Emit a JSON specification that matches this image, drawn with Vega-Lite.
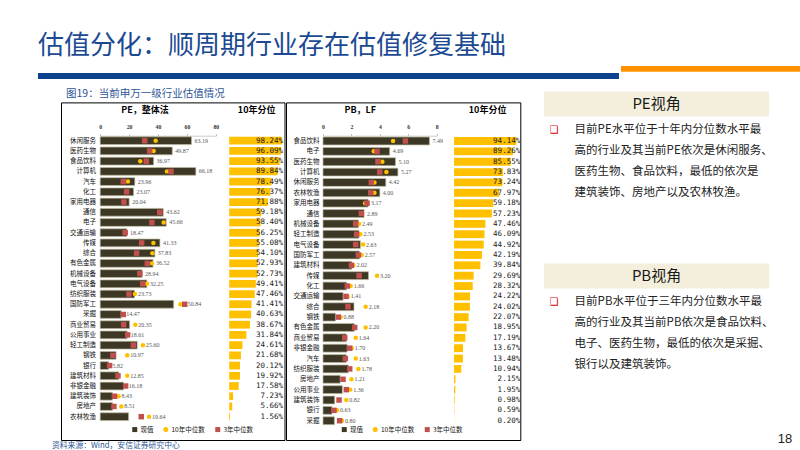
{
  "$schema": "https://vega.github.io/schema/vega-lite/v6.json",
  "background": "#FFFFFF",
  "padding": {"left": 38, "top": 33, "right": 0, "bottom": 0},
  "config": {"view": {"stroke": null}, "axis": {"grid": false}, "font": "Noto Sans CJK SC"},
  "title": {"text": "估值分化：顺周期行业存在估值修复基础", "anchor": "start", "fontSize": 26, "fontWeight": "normal", "font": "Noto Sans CJK SC", "color": "#1C4A92", "offset": 7},
  "datasets": {
    "pe": [
      {"ind": "休闲服务", "v": 63.19, "m10": 38.4, "m3": 30.8, "pct": 0.9824},
      {"ind": "医药生物", "v": 49.87, "m10": 37.0, "m3": 34.2, "pct": 0.9609},
      {"ind": "食品饮料", "v": 36.97, "m10": 27.7, "m3": 31.9, "pct": 0.9355},
      {"ind": "计算机", "v": 66.18, "m10": 46.2, "m3": 49.0, "pct": 0.8984},
      {"ind": "汽车", "v": 23.96, "m10": 19.2, "m3": 16.0, "pct": 0.7849},
      {"ind": "化工", "v": 23.07, "m10": 18.1, "m3": 18.3, "pct": 0.7637},
      {"ind": "家用电器", "v": 20.04, "m10": 16.5, "m3": 16.4, "pct": 0.7188},
      {"ind": "通信", "v": 43.62, "m10": 41.0, "m3": 41.2, "pct": 0.5918},
      {"ind": "电子", "v": 45.66, "m10": 43.9, "m3": 35.8, "pct": 0.5840},
      {"ind": "交通运输", "v": 18.47, "m10": 17.2, "m3": 17.3, "pct": 0.5625},
      {"ind": "传媒", "v": 41.33, "m10": 36.8, "m3": 28.7, "pct": 0.5508},
      {"ind": "综合", "v": 37.83, "m10": 36.1, "m3": 25.2, "pct": 0.5410},
      {"ind": "有色金属", "v": 36.52, "m10": 35.8, "m3": 32.6, "pct": 0.5293},
      {"ind": "机械设备", "v": 28.94, "m10": 27.3, "m3": 27.5, "pct": 0.5273},
      {"ind": "电气设备", "v": 32.25, "m10": 32.4, "m3": 29.4, "pct": 0.4941},
      {"ind": "纺织服装", "v": 23.73, "m10": 24.0, "m3": 19.9, "pct": 0.4746},
      {"ind": "国防军工", "v": 50.84, "m10": 55.5, "m3": 58.5, "pct": 0.4141},
      {"ind": "采掘", "v": 14.47, "m10": 15.9, "m3": 16.0, "pct": 0.4063},
      {"ind": "商业贸易", "v": 20.35, "m10": 24.3, "m3": 16.2, "pct": 0.3867},
      {"ind": "公用事业", "v": 18.61, "m10": 18.9, "m3": 19.0, "pct": 0.3184},
      {"ind": "轻工制造", "v": 25.60, "m10": 29.6, "m3": 22.9, "pct": 0.2461},
      {"ind": "钢铁", "v": 10.97, "m10": 18.7, "m3": 8.8, "pct": 0.2168},
      {"ind": "银行", "v": 5.82, "m10": 6.4, "m3": 6.5, "pct": 0.2012},
      {"ind": "建筑材料", "v": 12.85, "m10": 18.7, "m3": 12.3, "pct": 0.1992},
      {"ind": "非银金融", "v": 16.18, "m10": 17.5, "m3": 17.6, "pct": 0.1758},
      {"ind": "建筑装饰", "v": 8.43, "m10": 12.7, "m3": 9.9, "pct": 0.0723},
      {"ind": "房地产", "v": 8.51, "m10": 14.6, "m3": 9.5, "pct": 0.0566},
      {"ind": "农林牧渔", "v": 19.64, "m10": 33.8, "m3": 28.4, "pct": 0.0156}
    ],
    "pb": [
      {"ind": "食品饮料", "v": 7.49, "m10": 4.93, "m3": 5.80, "pct": 0.9414},
      {"ind": "电子", "v": 4.69, "m10": 3.57, "m3": 3.80, "pct": 0.8926},
      {"ind": "医药生物", "v": 5.10, "m10": 4.18, "m3": 3.87, "pct": 0.8555},
      {"ind": "计算机", "v": 5.27, "m10": 4.46, "m3": 3.99, "pct": 0.7383},
      {"ind": "休闲服务", "v": 4.42, "m10": 3.62, "m3": 3.40, "pct": 0.7324},
      {"ind": "农林牧渔", "v": 4.00, "m10": 3.62, "m3": 3.36, "pct": 0.6797},
      {"ind": "家用电器", "v": 3.17, "m10": 2.96, "m3": 3.10, "pct": 0.5918},
      {"ind": "通信", "v": 2.89, "m10": 2.69, "m3": 2.70, "pct": 0.5723},
      {"ind": "机械设备", "v": 2.49, "m10": 2.54, "m3": 2.30, "pct": 0.4746},
      {"ind": "轻工制造", "v": 2.53, "m10": 2.63, "m3": 2.37, "pct": 0.4609},
      {"ind": "电气设备", "v": 2.63, "m10": 2.82, "m3": 2.30, "pct": 0.4492},
      {"ind": "国防军工", "v": 2.57, "m10": 2.72, "m3": 2.49, "pct": 0.4219},
      {"ind": "建筑材料", "v": 2.02, "m10": 2.14, "m3": 2.00, "pct": 0.3984},
      {"ind": "传媒", "v": 3.20, "m10": 3.80, "m3": 2.54, "pct": 0.2969},
      {"ind": "化工", "v": 1.66, "m10": 1.95, "m3": 1.71, "pct": 0.2832},
      {"ind": "交通运输", "v": 1.41, "m10": 1.74, "m3": 1.62, "pct": 0.2422},
      {"ind": "综合", "v": 2.18, "m10": 3.00, "m3": 1.76, "pct": 0.2402},
      {"ind": "钢铁", "v": 0.88, "m10": 1.24, "m3": 1.08, "pct": 0.2207},
      {"ind": "有色金属", "v": 2.20, "m10": 3.00, "m3": 2.23, "pct": 0.1895},
      {"ind": "商业贸易", "v": 1.64, "m10": 2.30, "m3": 1.53, "pct": 0.1719},
      {"ind": "非银金融", "v": 1.70, "m10": 2.02, "m3": 1.88, "pct": 0.1367},
      {"ind": "汽车", "v": 1.63, "m10": 2.30, "m3": 1.57, "pct": 0.1348},
      {"ind": "纺织服装", "v": 1.78, "m10": 2.49, "m3": 1.88, "pct": 0.1094},
      {"ind": "房地产", "v": 1.21, "m10": 2.00, "m3": 1.41, "pct": 0.0215},
      {"ind": "公用事业", "v": 1.36, "m10": 1.92, "m3": 1.64, "pct": 0.0195},
      {"ind": "建筑装饰", "v": 0.82, "m10": 1.64, "m3": 1.13, "pct": 0.0098},
      {"ind": "银行", "v": 0.63, "m10": 0.99, "m3": 0.77, "pct": 0.0059},
      {"ind": "采掘", "v": 0.80, "m10": 1.34, "m3": 1.17, "pct": 0.0020}
    ]
  },
  "spacing": 8.4,
  "vconcat": [
    {
      "spacing": 2,
      "hconcat": [
        {
          "spacing": 2,
          "vconcat": [
            {"width": 581, "height": 4.3, "data": {"values": []}, "mark": "point"},
            {"width": 581, "height": 6, "data": {"values": []}, "mark": "point", "view": {"fill": "#0D428C", "stroke": null}}
          ]
        },
        {"width": 180, "height": 5.7, "data": {"values": []}, "mark": "point", "view": {"fill": "#FF9000", "stroke": null}}
      ]
    },
    {
      "spacing": 22.9,
      "hconcat": [
        {
          "spacing": 0,
          "vconcat": [
            {
              "spacing": 0,
              "hconcat": [
                {"width": 28, "height": 1, "data": {"values": []}, "mark": "point"},
                {
                  "width": 300, "height": 14,
                  "data": {"values": [{"c": "图19：当前申万一级行业估值情况"}]},
                  "mark": {"type": "text", "align": "left", "baseline": "middle", "fontSize": 10.5, "color": "#2E5597", "font": "Noto Sans CJK SC"},
                  "encoding": {
                    "x": {"datum": 0, "type": "quantitative", "scale": {"domain": [0, 1]}, "axis": null},
                    "text": {"field": "c"}
                  }
                }
              ]
            },
            {
              "spacing": 0,
              "resolve": {"scale": {"color": "independent", "shape": "independent"}},
              "hconcat": [
                {"width": 21.5, "height": 1, "data": {"values": []}, "mark": "point"},
                {
                  "width": 223.5, "height": 337.6,
                  "view": {"stroke": "#000000", "strokeWidth": 1},
                  "data": {"name": "pe"},
                  "transform": [
                    {"fold": ["v", "m10", "m3"], "as": ["key", "val"]},
                    {"joinaggregate": [{"op": "max", "field": "val", "as": "mx"}], "groupby": ["ind"]}
                  ],
                  "encoding": {
                    "y": {
                      "field": "ind", "type": "nominal",
                      "scale": {"domain": ["休闲服务","医药生物","食品饮料","计算机","汽车","化工","家用电器","通信","电子","交通运输","传媒","综合","有色金属","机械设备","电气设备","纺织服装","国防军工","采掘","商业贸易","公用事业","轻工制造","钢铁","银行","建筑材料","非银金融","建筑装饰","房地产","农林牧渔"], "range": [33.2, 319.4], "paddingInner": 0.24, "paddingOuter": 0.12},
                      "axis": {"orient": "left", "offset": -37, "ticks": false, "domain": false, "labelPadding": 2.5, "labelFont": "Noto Sans CJK SC", "labelFontSize": 6.5, "labelColor": "#111111", "title": null}
                    }
                  },
                  "layer": [
                    {
                      "transform": [{"filter": "datum.key === 'v'"}],
                      "mark": {"type": "bar", "stroke": "#BDB89E", "strokeWidth": 0.7},
                      "encoding": {
                        "x": {"field": "val", "type": "quantitative", "scale": {"domain": [0, 80], "range": [39.2, 154.8], "nice": false},
                          "axis": {"orient": "top", "offset": -33.3, "values": [0, 20, 40, 60, 80], "tickSize": 2, "tickColor": "#BBBBBB", "domainColor": "#CCCCCC", "labelFont": "Liberation Serif", "labelFontSize": 5.8, "labelFontWeight": "bold", "labelColor": "#333333", "labelPadding": 4.5, "labelFlush": false, "title": "PE，整体法", "titleFont": "Noto Sans CJK SC", "titleFontSize": 9, "titleFontWeight": "bold", "titleColor": "#000000", "titleX": 83.5, "titleY": -26, "titleBaseline": "middle", "titleAlign": "center"}},
                        "color": {"field": "key", "type": "nominal", "scale": {"domain": ["v", "m10", "m3"], "range": ["#3C3825", "#FFC000", "#C0504D"]},
                          "legend": {"orient": "none", "legendX": 70.5, "legendY": 323.8, "direction": "horizontal", "title": null, "labelExpr": "datum.label === 'v' ? '现值' : datum.label === 'm10' ? '10年中位数' : '3年中位数'", "labelFont": "Noto Sans CJK SC", "labelFontSize": 6.5, "labelColor": "#111111", "symbolSize": 25, "symbolStrokeWidth": 0, "columnPadding": 9, "labelOffset": 2.5, "padding": 0}}
                      }
                    },
                    {
                      "transform": [{"filter": "datum.key === 'm10'"}],
                      "mark": {"type": "point", "filled": true, "opacity": 1, "size": 20, "strokeWidth": 0},
                      "encoding": {
                        "x": {"field": "val", "type": "quantitative", "scale": {"domain": [0, 80], "range": [39.2, 154.8], "nice": false}, "axis": null},
                        "color": {"field": "key", "type": "nominal", "scale": {"domain": ["v", "m10", "m3"], "range": ["#3C3825", "#FFC000", "#C0504D"]},
                          "legend": {"orient": "none", "legendX": 70.5, "legendY": 323.8, "direction": "horizontal", "title": null, "labelExpr": "datum.label === 'v' ? '现值' : datum.label === 'm10' ? '10年中位数' : '3年中位数'", "labelFont": "Noto Sans CJK SC", "labelFontSize": 6.5, "labelColor": "#111111", "symbolSize": 25, "symbolStrokeWidth": 0, "columnPadding": 9, "labelOffset": 2.5, "padding": 0}},
                        "shape": {"field": "key", "type": "nominal", "scale": {"domain": ["v", "m10", "m3"], "range": ["square", "circle", "square"]},
                          "legend": {"orient": "none", "legendX": 70.5, "legendY": 323.8, "direction": "horizontal", "title": null, "labelExpr": "datum.label === 'v' ? '现值' : datum.label === 'm10' ? '10年中位数' : '3年中位数'", "labelFont": "Noto Sans CJK SC", "labelFontSize": 6.5, "labelColor": "#111111", "symbolSize": 25, "symbolStrokeWidth": 0, "columnPadding": 9, "labelOffset": 2.5, "padding": 0}}
                      }
                    },
                    {
                      "transform": [{"filter": "datum.key === 'm3'"}],
                      "mark": {"type": "point", "filled": true, "opacity": 1, "size": 30, "strokeWidth": 0},
                      "encoding": {
                        "x": {"field": "val", "type": "quantitative", "scale": {"domain": [0, 80], "range": [39.2, 154.8], "nice": false}, "axis": null},
                        "color": {"field": "key", "type": "nominal", "scale": {"domain": ["v", "m10", "m3"], "range": ["#3C3825", "#FFC000", "#C0504D"]},
                          "legend": {"orient": "none", "legendX": 70.5, "legendY": 323.8, "direction": "horizontal", "title": null, "labelExpr": "datum.label === 'v' ? '现值' : datum.label === 'm10' ? '10年中位数' : '3年中位数'", "labelFont": "Noto Sans CJK SC", "labelFontSize": 6.5, "labelColor": "#111111", "symbolSize": 25, "symbolStrokeWidth": 0, "columnPadding": 9, "labelOffset": 2.5, "padding": 0}},
                        "shape": {"field": "key", "type": "nominal", "scale": {"domain": ["v", "m10", "m3"], "range": ["square", "circle", "square"]},
                          "legend": {"orient": "none", "legendX": 70.5, "legendY": 323.8, "direction": "horizontal", "title": null, "labelExpr": "datum.label === 'v' ? '现值' : datum.label === 'm10' ? '10年中位数' : '3年中位数'", "labelFont": "Noto Sans CJK SC", "labelFontSize": 6.5, "labelColor": "#111111", "symbolSize": 25, "symbolStrokeWidth": 0, "columnPadding": 9, "labelOffset": 2.5, "padding": 0}}
                      }
                    },
                    {
                      "transform": [{"filter": "datum.key === 'v'"}],
                      "mark": {"type": "text", "align": "left", "baseline": "middle", "dx": 3, "font": "Liberation Serif", "fontSize": 6, "color": "#555555"},
                      "encoding": {
                        "x": {"field": "mx", "type": "quantitative", "scale": {"domain": [0, 80], "range": [39.2, 154.8], "nice": false}, "axis": null},
                        "text": {"field": "val", "type": "quantitative", "format": ".2f"}
                      }
                    },
                    {
                      "transform": [{"filter": "datum.key === 'v'"}],
                      "mark": {"type": "bar", "color": "#FFC000"},
                      "encoding": {
                        "x": {"field": "pct", "type": "quantitative", "scale": {"domain": [0, 1], "range": [168.2, 222.1], "nice": false},
                          "axis": {"orient": "top", "offset": -33.3, "labels": false, "ticks": false, "domain": false, "title": "10年分位", "titleFont": "Noto Sans CJK SC", "titleFontSize": 9, "titleFontWeight": "bold", "titleColor": "#000000", "titleY": -26, "titleBaseline": "middle"}}
                      }
                    },
                    {
                      "transform": [{"filter": "datum.key === 'v'"}],
                      "mark": {"type": "text", "align": "right", "baseline": "middle", "font": "DejaVu Sans Mono", "fontSize": 7.5, "color": "#222222"},
                      "encoding": {
                        "x": {"datum": 1, "type": "quantitative", "scale": {"domain": [0, 1], "range": [168.2, 222.1], "nice": false}, "axis": null},
                        "text": {"field": "pct", "type": "quantitative", "format": ".2%"}
                      }
                    }
                  ],
                  "resolve": {"scale": {"x": "independent"}, "axis": {"x": "independent"}}
                },
                {
                  "width": 234.3, "height": 337.6,
                  "view": {"stroke": "#000000", "strokeWidth": 1},
                  "data": {"name": "pb"},
                  "transform": [
                    {"fold": ["v", "m10", "m3"], "as": ["key", "val"]},
                    {"joinaggregate": [{"op": "max", "field": "val", "as": "mx"}], "groupby": ["ind"]}
                  ],
                  "encoding": {
                    "y": {
                      "field": "ind", "type": "nominal",
                      "scale": {"domain": ["食品饮料","电子","医药生物","计算机","休闲服务","农林牧渔","家用电器","通信","机械设备","轻工制造","电气设备","国防军工","建筑材料","传媒","化工","交通运输","综合","钢铁","有色金属","商业贸易","非银金融","汽车","纺织服装","房地产","公用事业","建筑装饰","银行","采掘"], "range": [33.4, 323.5], "paddingInner": 0.24, "paddingOuter": 0.12},
                      "axis": {"orient": "left", "offset": -35.5, "ticks": false, "domain": false, "labelPadding": 2.5, "labelFont": "Noto Sans CJK SC", "labelFontSize": 6.5, "labelColor": "#111111", "title": null}
                    }
                  },
                  "layer": [
                    {
                      "transform": [{"filter": "datum.key === 'v'"}],
                      "mark": {"type": "bar", "stroke": "#BDB89E", "strokeWidth": 0.7},
                      "encoding": {
                        "x": {"field": "val", "type": "quantitative", "scale": {"domain": [0, 8], "range": [37, 150.7], "nice": false},
                          "axis": {"orient": "top", "offset": -33.3, "values": [0, 2, 4, 6, 8], "tickSize": 2, "tickColor": "#BBBBBB", "domainColor": "#CCCCCC", "labelFont": "Liberation Serif", "labelFontSize": 5.8, "labelFontWeight": "bold", "labelColor": "#333333", "labelPadding": 4.5, "labelFlush": false, "title": "PB，LF", "titleFont": "Noto Sans CJK SC", "titleFontSize": 9, "titleFontWeight": "bold", "titleColor": "#000000", "titleX": 73.7, "titleY": -26, "titleBaseline": "middle", "titleAlign": "center"}},
                        "color": {"field": "key", "type": "nominal", "scale": {"domain": ["v", "m10", "m3"], "range": ["#3C3825", "#FFC000", "#C0504D"]},
                          "legend": {"orient": "none", "legendX": 55, "legendY": 323.8, "direction": "horizontal", "title": null, "labelExpr": "datum.label === 'v' ? '现值' : datum.label === 'm10' ? '10年中位数' : '3年中位数'", "labelFont": "Noto Sans CJK SC", "labelFontSize": 6.5, "labelColor": "#111111", "symbolSize": 25, "symbolStrokeWidth": 0, "columnPadding": 9, "labelOffset": 2.5, "padding": 0}}
                      }
                    },
                    {
                      "transform": [{"filter": "datum.key === 'm10'"}],
                      "mark": {"type": "point", "filled": true, "opacity": 1, "size": 20, "strokeWidth": 0},
                      "encoding": {
                        "x": {"field": "val", "type": "quantitative", "scale": {"domain": [0, 8], "range": [37, 150.7], "nice": false}, "axis": null},
                        "color": {"field": "key", "type": "nominal", "scale": {"domain": ["v", "m10", "m3"], "range": ["#3C3825", "#FFC000", "#C0504D"]},
                          "legend": {"orient": "none", "legendX": 55, "legendY": 323.8, "direction": "horizontal", "title": null, "labelExpr": "datum.label === 'v' ? '现值' : datum.label === 'm10' ? '10年中位数' : '3年中位数'", "labelFont": "Noto Sans CJK SC", "labelFontSize": 6.5, "labelColor": "#111111", "symbolSize": 25, "symbolStrokeWidth": 0, "columnPadding": 9, "labelOffset": 2.5, "padding": 0}},
                        "shape": {"field": "key", "type": "nominal", "scale": {"domain": ["v", "m10", "m3"], "range": ["square", "circle", "square"]},
                          "legend": {"orient": "none", "legendX": 55, "legendY": 323.8, "direction": "horizontal", "title": null, "labelExpr": "datum.label === 'v' ? '现值' : datum.label === 'm10' ? '10年中位数' : '3年中位数'", "labelFont": "Noto Sans CJK SC", "labelFontSize": 6.5, "labelColor": "#111111", "symbolSize": 25, "symbolStrokeWidth": 0, "columnPadding": 9, "labelOffset": 2.5, "padding": 0}}
                      }
                    },
                    {
                      "transform": [{"filter": "datum.key === 'm3'"}],
                      "mark": {"type": "point", "filled": true, "opacity": 1, "size": 30, "strokeWidth": 0},
                      "encoding": {
                        "x": {"field": "val", "type": "quantitative", "scale": {"domain": [0, 8], "range": [37, 150.7], "nice": false}, "axis": null},
                        "color": {"field": "key", "type": "nominal", "scale": {"domain": ["v", "m10", "m3"], "range": ["#3C3825", "#FFC000", "#C0504D"]},
                          "legend": {"orient": "none", "legendX": 55, "legendY": 323.8, "direction": "horizontal", "title": null, "labelExpr": "datum.label === 'v' ? '现值' : datum.label === 'm10' ? '10年中位数' : '3年中位数'", "labelFont": "Noto Sans CJK SC", "labelFontSize": 6.5, "labelColor": "#111111", "symbolSize": 25, "symbolStrokeWidth": 0, "columnPadding": 9, "labelOffset": 2.5, "padding": 0}},
                        "shape": {"field": "key", "type": "nominal", "scale": {"domain": ["v", "m10", "m3"], "range": ["square", "circle", "square"]},
                          "legend": {"orient": "none", "legendX": 55, "legendY": 323.8, "direction": "horizontal", "title": null, "labelExpr": "datum.label === 'v' ? '现值' : datum.label === 'm10' ? '10年中位数' : '3年中位数'", "labelFont": "Noto Sans CJK SC", "labelFontSize": 6.5, "labelColor": "#111111", "symbolSize": 25, "symbolStrokeWidth": 0, "columnPadding": 9, "labelOffset": 2.5, "padding": 0}}
                      }
                    },
                    {
                      "transform": [{"filter": "datum.key === 'v'"}],
                      "mark": {"type": "text", "align": "left", "baseline": "middle", "dx": 3, "font": "Liberation Serif", "fontSize": 6, "color": "#555555"},
                      "encoding": {
                        "x": {"field": "mx", "type": "quantitative", "scale": {"domain": [0, 8], "range": [37, 150.7], "nice": false}, "axis": null},
                        "text": {"field": "val", "type": "quantitative", "format": ".2f"}
                      }
                    },
                    {
                      "transform": [{"filter": "datum.key === 'v'"}],
                      "mark": {"type": "bar", "color": "#FFC000"},
                      "encoding": {
                        "x": {"field": "pct", "type": "quantitative", "scale": {"domain": [0, 1], "range": [168, 234.2], "nice": false},
                          "axis": {"orient": "top", "offset": -33.3, "labels": false, "ticks": false, "domain": false, "title": "10年分位", "titleFont": "Noto Sans CJK SC", "titleFontSize": 9, "titleFontWeight": "bold", "titleColor": "#000000", "titleY": -26, "titleBaseline": "middle"}}
                      }
                    },
                    {
                      "transform": [{"filter": "datum.key === 'v'"}],
                      "mark": {"type": "text", "align": "right", "baseline": "middle", "font": "DejaVu Sans Mono", "fontSize": 7.5, "color": "#222222"},
                      "encoding": {
                        "x": {"datum": 1, "type": "quantitative", "scale": {"domain": [0, 1], "range": [168, 234.2], "nice": false}, "axis": null},
                        "text": {"field": "pct", "type": "quantitative", "format": ".2%"}
                      }
                    }
                  ],
                  "resolve": {"scale": {"x": "independent"}, "axis": {"x": "independent"}}
                }
              ]
            },
            {
              "spacing": 0,
              "hconcat": [
                {"width": 14, "height": 1, "data": {"values": []}, "mark": "point"},
                {
                  "width": 200, "height": 7,
                  "data": {"values": [{"s": "资料来源：Wind，安信证券研究中心"}]},
                  "mark": {"type": "text", "align": "left", "baseline": "middle", "fontSize": 7.8, "color": "#2E5597", "font": "Noto Sans CJK SC"},
                  "encoding": {
                    "x": {"datum": 0, "type": "quantitative", "scale": {"domain": [0, 1]}, "axis": null},
                    "text": {"field": "s"}
                  }
                }
              ]
            }
          ]
        },
        {
          "spacing": 0,
          "vconcat": [
            {"width": 1, "height": 3.3, "data": {"values": []}, "mark": "point"},
            {
              "width": 225.3, "height": 25,
              "view": {"fill": "#F3EFDC", "stroke": null},
              "data": {"values": [{"t": "PE视角"}]},
              "mark": {"type": "text", "fontSize": 15, "color": "#1A1A1A", "font": "Noto Sans CJK SC"},
              "encoding": {"text": {"field": "t"}}
            },
            {"width": 1, "height": 3, "data": {"values": []}, "mark": "point"},
            {
              "spacing": 9.7,
              "hconcat": [
                {
                  "width": 20.6, "height": 21,
                  "data": {"values": [{"b": "❑"}]},
                  "mark": {"type": "text", "font": "DejaVu Sans", "fontSize": 10, "color": "#E00000"},
                  "encoding": {"text": {"field": "b"}}
                },
                {
                  "width": 195, "height": {"step": 21},
                  "data": {"values": [
                    {"n": 1, "t": "目前PE水平位于十年内分位数水平最"},
                    {"n": 2, "t": "高的行业及其当前PE依次是休闲服务、"},
                    {"n": 3, "t": "医药生物、食品饮料，最低的依次是"},
                    {"n": 4, "t": "建筑装饰、房地产以及农林牧渔。"}
                  ]},
                  "mark": {"type": "text", "align": "left", "baseline": "middle", "fontSize": 11.5, "color": "#222222", "font": "Noto Sans CJK SC"},
                  "encoding": {
                    "x": {"datum": 0, "type": "quantitative", "scale": {"domain": [0, 1]}, "axis": null},
                    "y": {"field": "n", "type": "ordinal", "axis": null},
                    "text": {"field": "t"}
                  }
                }
              ]
            },
            {"width": 1, "height": 60, "data": {"values": []}, "mark": "point"},
            {
              "width": 225.3, "height": 25,
              "view": {"fill": "#F3EFDC", "stroke": null},
              "data": {"values": [{"t": "PB视角"}]},
              "mark": {"type": "text", "fontSize": 15, "color": "#1A1A1A", "font": "Noto Sans CJK SC"},
              "encoding": {"text": {"field": "t"}}
            },
            {"width": 1, "height": 3, "data": {"values": []}, "mark": "point"},
            {
              "spacing": 9.7,
              "hconcat": [
                {
                  "width": 20.6, "height": 21,
                  "data": {"values": [{"b": "❑"}]},
                  "mark": {"type": "text", "font": "DejaVu Sans", "fontSize": 10, "color": "#E00000"},
                  "encoding": {"text": {"field": "b"}}
                },
                {
                  "width": 195, "height": {"step": 21},
                  "data": {"values": [
                    {"n": 1, "t": "目前PB水平位于三年内分位数水平最"},
                    {"n": 2, "t": "高的行业及其当前PB依次是食品饮料、"},
                    {"n": 3, "t": "电子、医药生物，最低的依次是采掘、"},
                    {"n": 4, "t": "银行以及建筑装饰。"}
                  ]},
                  "mark": {"type": "text", "align": "left", "baseline": "middle", "fontSize": 11.5, "color": "#222222", "font": "Noto Sans CJK SC"},
                  "encoding": {
                    "x": {"datum": 0, "type": "quantitative", "scale": {"domain": [0, 1]}, "axis": null},
                    "y": {"field": "n", "type": "ordinal", "axis": null},
                    "text": {"field": "t"}
                  }
                }
              ]
            },
            {"width": 1, "height": 57, "data": {"values": []}, "mark": "point"},
            {
              "width": 248.3, "height": 14,
              "data": {"values": [{"p": "18"}]},
              "mark": {"type": "text", "align": "right", "baseline": "middle", "fontSize": 13, "color": "#222222", "font": "Liberation Sans"},
              "encoding": {
                "x": {"datum": 1, "type": "quantitative", "scale": {"domain": [0, 1]}, "axis": null},
                "text": {"field": "p"}
              }
            }
          ]
        }
      ]
    }
  ]
}
